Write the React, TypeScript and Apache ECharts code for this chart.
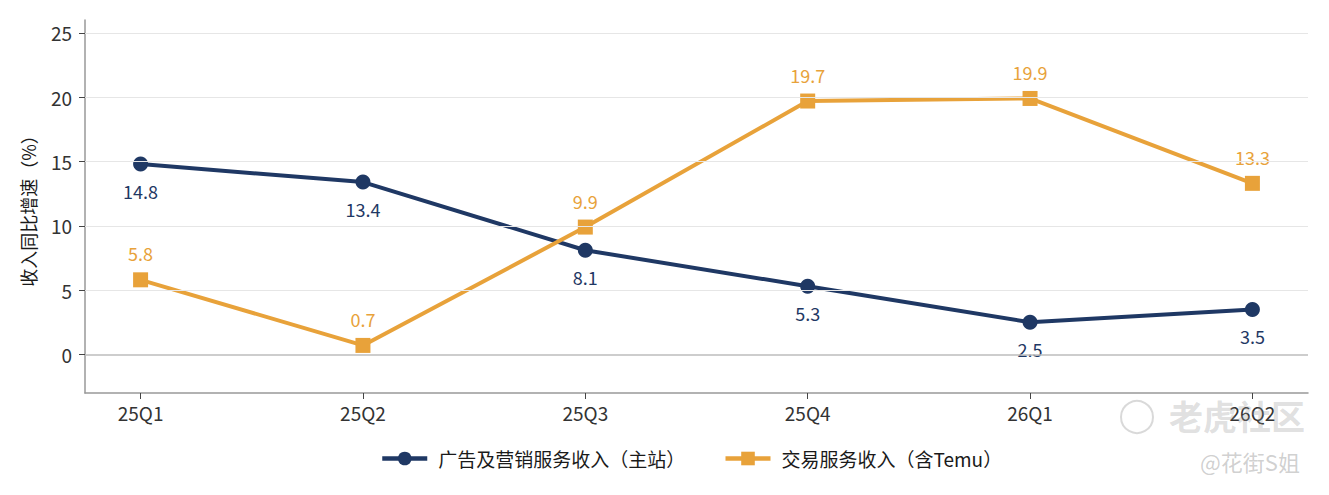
import React, { useEffect, useRef } from "react";
import * as echarts from "echarts";

const categories = ["25Q1", "25Q2", "25Q3", "25Q4", "26Q1", "26Q2"];
const adValues = [14.8, 13.4, 8.1, 5.3, 2.5, 3.5];
const tradeValues = [5.8, 0.7, 9.9, 19.7, 19.9, 13.3];
const yTicks = [0, 5, 10, 15, 20, 25];
const seriesNames = ["广告及营销服务收入（主站）", "交易服务收入（含Temu）"];
const yAxisName = "收入同比增速（%）";

const NAVY = "#1f3864";
const ORANGE = "#e8a23a";
const FONT = "'Noto Sans CJK SC', 'Noto Sans', sans-serif";

export default function App() {
  const ref = useRef<HTMLDivElement>(null);
  useEffect(() => {
    if (!ref.current) return;
    const chart = echarts.init(ref.current, undefined, { renderer: "svg" });
    const xIdx = categories.map((_, i) => i);
    chart.setOption({
      animation: false,
      textStyle: { fontFamily: FONT },
      grid: { left: 85, right: 21, top: 20, bottom: 102 },
      legend: {
        top: 444,
        left: 375,
        itemWidth: 45,
        itemHeight: 17,
        itemGap: 38,
        lineStyle: { width: 4.5 },
        textStyle: { fontSize: 19, color: "#1a1a1a", fontFamily: FONT, padding: [0, 0, 0, 6] },
        data: seriesNames,
      },
      xAxis: {
        type: "value",
        min: -0.25,
        max: categories.length - 0.75,
        axisLine: { show: true, onZero: false, lineStyle: { color: "#999", width: 1.5 } },
        axisTick: { show: true, customValues: xIdx, length: 6, lineStyle: { color: "#444" } },
        axisLabel: {
          customValues: xIdx,
          formatter: (v: number) => categories[Math.round(v)] ?? "",
          fontSize: 19,
          color: "#333",
          margin: 10,
          fontFamily: FONT,
        },
        splitLine: { show: false },
      },
      yAxis: {
        type: "value",
        min: -3,
        max: 26,
        name: yAxisName,
        nameLocation: "middle",
        nameGap: 48,
        nameTextStyle: { fontSize: 18, color: "#1a1a1a", fontFamily: FONT },
        axisLine: { show: true, onZero: false, lineStyle: { color: "#999", width: 1.5 } },
        axisTick: { show: true, customValues: yTicks, length: 6, lineStyle: { color: "#444" } },
        axisLabel: {
          customValues: yTicks,
          fontSize: 19,
          color: "#333",
          margin: 13,
          fontFamily: FONT,
        },
        splitLine: { show: false },
      },
      series: [
        {
          name: "grid",
          type: "line",
          data: [],
          silent: true,
          markLine: {
            silent: true,
            symbol: "none",
            label: { show: false },
            data: yTicks.map((v) => ({
              yAxis: v,
              lineStyle: { color: v === 0 ? "#bdbdbd" : "#e6e6e6", width: v === 0 ? 1.5 : 1.2, type: "solid" },
            })),
          },
        },
        {
          name: seriesNames[0],
          type: "line",
          data: adValues.map((v, i) => [i, v]),
          symbol: "circle",
          symbolSize: 15,
          itemStyle: { color: NAVY },
          lineStyle: { color: NAVY, width: 4 },
          label: {
            show: true,
            position: "bottom",
            distance: 10,
            fontSize: 18,
            color: NAVY,
            fontFamily: FONT,
            formatter: (p: any) => p.value[1].toFixed(1),
          },
          z: 3,
        },
        {
          name: seriesNames[1],
          type: "line",
          data: tradeValues.map((v, i) => [i, v]),
          symbol: "rect",
          symbolSize: 15,
          itemStyle: { color: ORANGE },
          lineStyle: { color: ORANGE, width: 4 },
          label: {
            show: true,
            position: "top",
            distance: 10,
            fontSize: 18,
            color: ORANGE,
            fontFamily: FONT,
            formatter: (p: any) => p.value[1].toFixed(1),
          },
          z: 3,
        },
      ],
      graphic: [
        {
          type: "circle",
          shape: { cx: 1137, cy: 417, r: 16 },
          style: { fill: "none", stroke: "rgba(160,160,160,0.4)", lineWidth: 2 },
          silent: true,
        },
        {
          type: "text",
          x: 1169,
          y: 398,
          style: {
            text: "老虎社区",
            font: `bold 34px ${FONT}`,
            fill: "rgba(150,150,150,0.3)",
          },
          silent: true,
          z: 100,
        },
        {
          type: "text",
          x: 1200,
          y: 450,
          style: {
            text: "@花街S姐",
            font: `22px ${FONT}`,
            fill: "rgba(150,150,150,0.45)",
          },
          silent: true,
          z: 100,
        },
      ],
    });
    return () => chart.dispose();
  }, []);
  return (
    <div
      ref={ref}
      style={{ position: "absolute", left: 0, top: 0, width: 1329, height: 495 }}
    />
  );
}
